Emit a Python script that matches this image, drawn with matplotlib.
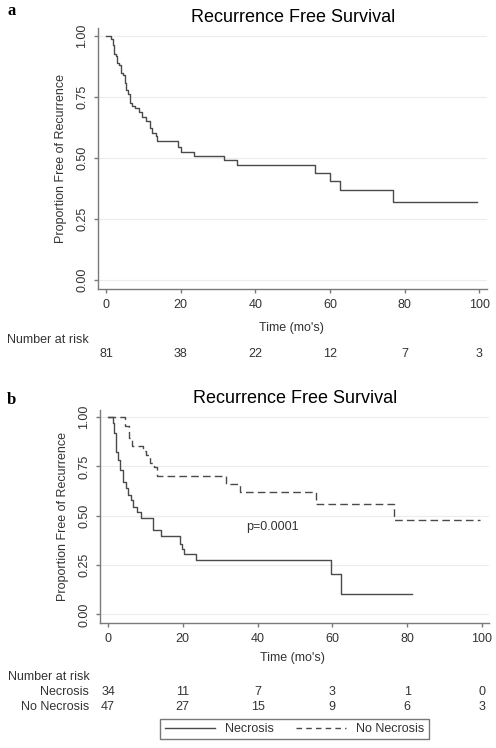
import matplotlib
matplotlib.use("Agg")
import matplotlib.pyplot as plt
import matplotlib.transforms as mtransforms
from matplotlib.lines import Line2D

plt.rcParams["font.family"] = ["Liberation Sans", "DejaVu Sans"]

# panel a: all patients
t_all = [0, 1.3, 1.8, 2.1, 2.6, 2.9, 3.6, 4.0, 4.6, 5.0, 5.3, 5.9, 6.4, 6.9, 7.8, 8.9,
         9.6, 10.7, 11.7, 12.3, 13.5, 13.8, 19.4, 20.0, 23.5, 31.5, 35.2, 55.9, 59.9,
         62.6, 76.8, 99.5]
s_all = [1.0, 0.986, 0.963, 0.926, 0.918, 0.888, 0.882, 0.847, 0.84, 0.806, 0.779,
         0.762, 0.727, 0.713, 0.704, 0.69, 0.667, 0.653, 0.622, 0.601, 0.59, 0.571,
         0.544, 0.526, 0.51, 0.49, 0.473, 0.44, 0.406, 0.369, 0.32, 0.32]

# panel b: necrosis vs no necrosis
t_nec = [0, 1.4, 1.6, 2.1, 2.7, 3.3, 4.0, 4.7, 5.3, 6.2, 6.8, 7.7, 8.8, 12.1, 14.1,
         19.3, 19.8, 20.2, 23.5, 59.6, 62.3, 81.2]
s_nec = [1.0, 0.97, 0.919, 0.825, 0.783, 0.733, 0.673, 0.64, 0.606, 0.58, 0.546,
         0.521, 0.49, 0.43, 0.398, 0.359, 0.333, 0.308, 0.276, 0.206, 0.103, 0.103]
t_non = [0, 4.5, 5.6, 6.3, 9.4, 10.2, 11.2, 12.4, 13.0, 31.6, 35.3, 55.6, 76.6, 99.5]
s_non = [1.0, 0.957, 0.894, 0.851, 0.83, 0.809, 0.766, 0.745, 0.702, 0.66, 0.62,
         0.56, 0.48, 0.48]

x_ticks = [0, 20, 40, 60, 80, 100]
y_ticks = [0.0, 0.25, 0.5, 0.75, 1.0]
risk_all = [81, 38, 22, 12, 7, 3]
risk_nec = [34, 11, 7, 3, 1, 0]
risk_non = [47, 27, 15, 9, 6, 3]

W, H = 496, 748
LINE = "#4a4a4a"
AXC = "#7a7a7a"
TXT = "#333333"

fig = plt.figure(figsize=(W / 100, H / 100), dpi=100)


def px_axes(left, top, right, bottom):
    return fig.add_axes([left / W, 1 - bottom / H, (right - left) / W, (bottom - top) / H])


def ftext(x, y, s, **kw):
    kw.setdefault("color", TXT)
    kw.setdefault("fontsize", 9)
    fig.text(x / W, 1 - y / H, s, **kw)


def style(ax, xlim, ylim):
    ax.set_xlim(*xlim)
    ax.set_ylim(*ylim)
    ax.set_xticks(x_ticks)
    ax.set_yticks(y_ticks)
    ax.set_yticklabels([f"{v:.2f}" for v in y_ticks], rotation=90, va="center")
    for sp in ["top", "right"]:
        ax.spines[sp].set_visible(False)
    for sp in ["left", "bottom"]:
        ax.spines[sp].set_color(AXC)
        ax.spines[sp].set_linewidth(1.0)
    ax.tick_params(length=3, width=1.0, color=AXC, labelcolor=TXT, labelsize=9)
    ax.tick_params(axis="y", pad=4)
    ax.tick_params(axis="x", pad=4)
    ax.grid(axis="y", color="#ececec", linewidth=0.8)
    ax.set_axisbelow(True)
    ax.text(-0.095, 0.5, "Proportion Free of Recurrence", transform=ax.transAxes,
            rotation=90, ha="center", va="center", fontsize=9, color=TXT)


# ---- panel a ----
ax1 = px_axes(98, 28, 487, 289)
ax1.step(t_all, s_all, where="post", color=LINE, linewidth=1.0)
style(ax1, (-2.14, 102.1), (-0.037, 1.033))
ftext(293.5, 22, "Recurrence Free Survival", fontsize=13, ha="center", va="baseline", color="black")
ftext(7, 15, "a", fontsize=12, fontweight="bold", family="Liberation Serif", va="baseline", color="black")
ftext(291, 331, "Time (mo's)", ha="center", va="baseline")
ftext(7, 343, "Number at risk", ha="left", va="baseline")
tr1 = mtransforms.blended_transform_factory(ax1.transData, fig.transFigure)
for x, n in zip(x_ticks, risk_all):
    ax1.text(x, 1 - 357 / H, str(n), transform=tr1, ha="center", va="baseline", fontsize=9, color=TXT)

# ---- panel b ----
ax2 = px_axes(100, 410, 489, 623)
l_nec, = ax2.step(t_nec, s_nec, where="post", color=LINE, linewidth=1.0)
l_non, = ax2.step(t_non, s_non, where="post", color=LINE, linewidth=1.0, dashes=(5.5, 3))
style(ax2, (-2.14, 101.9), (-0.044, 1.036))
ax2.text(43.9, 0.443, "p=0.0001", ha="center", va="center", fontsize=9, color=TXT)
ftext(295, 403, "Recurrence Free Survival", fontsize=13, ha="center", va="baseline", color="black")
ftext(7, 404, "b", fontsize=12, fontweight="bold", family="Liberation Serif", va="baseline", color="black")
ftext(292, 661, "Time (mo's)", ha="center", va="baseline")
ftext(8, 680, "Number at risk", ha="left", va="baseline")
ftext(89, 695, "Necrosis", ha="right", va="baseline")
ftext(89, 710, "No Necrosis", ha="right", va="baseline")
tr2 = mtransforms.blended_transform_factory(ax2.transData, fig.transFigure)
for x, a, b in zip(x_ticks, risk_nec, risk_non):
    ax2.text(x, 1 - 695 / H, str(a), transform=tr2, ha="center", va="baseline", fontsize=9, color=TXT)
    ax2.text(x, 1 - 710 / H, str(b), transform=tr2, ha="center", va="baseline", fontsize=9, color=TXT)

h1 = Line2D([], [], color=LINE, linewidth=1.0)
h2 = Line2D([], [], color=LINE, linewidth=1.0, dashes=(4, 3))
leg = fig.legend([h1, h2], ["Necrosis", "No Necrosis"], loc="center",
                 bbox_to_anchor=(294.5 / W, 1 - 729 / H), ncol=2, frameon=True,
                 fancybox=False, edgecolor="#555555", handlelength=4, handletextpad=0.8,
                 columnspacing=1.8, borderpad=0.35, fontsize=9, labelcolor=TXT)
leg.get_frame().set_linewidth(1.0)

fig.savefig("out.png", dpi=100)
